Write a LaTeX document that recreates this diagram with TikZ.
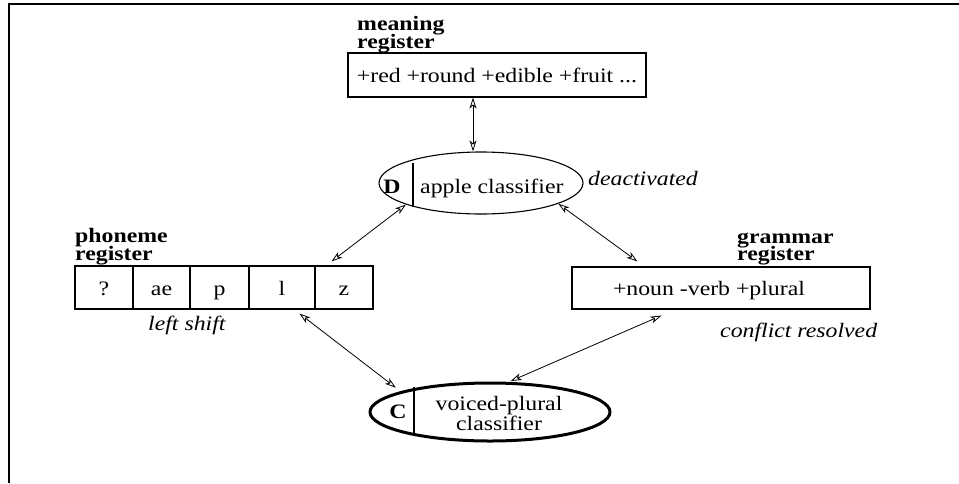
\documentclass[tikz,border=0pt]{standalone}
\usepackage{fontspec}
\setmainfont{Liberation Serif}[FakeStretch=1.16]
\usetikzlibrary{arrows.meta,shapes.geometric}
\newcommand\mytightlines{\lineskiplimit -100pt\relax\lineskip 0pt\relax}
\begin{document}
\begin{tikzpicture}[x=1pt,y=-1pt,
  txt/.style={inner sep=0pt, font=\fontsize{20.5}{16}\selectfont},
  lbl/.style={inner sep=0pt, font={\fontsize{20.5}{17.5}\selectfont\mytightlines\bfseries}, align=left, anchor=north west},
  note/.style={inner sep=0pt, font=\fontsize{20.5}{16}\selectfont\itshape, anchor=base west},
  box/.style={draw, line width=1.1pt, inner sep=0pt},
  cell/.style={box, minimum height=43pt, text height=16pt, text depth=1pt, font=\fontsize{20.5}{16}\selectfont},
  oval/.style={draw, ellipse, inner sep=0pt},
  link/.style={line width=0.8pt, arrows={Stealth[open,length=11pt,width=7pt,inset=3pt]-Stealth[open,length=11pt,width=7pt,inset=3pt]}},
]
\useasboundingbox (0,0) rectangle (959,483);
% frame
\draw[line width=1.1pt] (9,483) -- (9,4) -- (959,4);

% meaning register
\node[lbl] (ML) at (357,16.5) {meaning\\register};
\node[box, minimum width=298pt, minimum height=44pt, font=\fontsize{20.5}{16}\selectfont] (M) at (497,75) {+red +round +edible +fruit ...};

% D ellipse
\node[oval, line width=1.1pt, minimum width=204pt, minimum height=62pt] (D) at (481,183) {};
\draw[line width=1.1pt] (413,163) -- (413,207);
\node[txt, anchor=base] (Dl) at (392,193) {\bfseries D};
\node[txt, anchor=base west] (Dt) at (420,193) {apple classifier};
\node[note] (deact) at (588,185) {deactivated};

% phoneme register
\node[lbl] (PL) at (75,228.5) {phoneme\\register};
\node[cell, minimum width=58pt] (P1) at (104,287.5) {?};
\node[cell, minimum width=57pt] (P2) at (161.5,287.5) {ae};
\node[cell, minimum width=59pt] (P3) at (219.5,287.5) {p};
\node[cell, minimum width=66pt] (P4) at (282,287.5) {l};
\node[cell, minimum width=58pt] (P5) at (344,287.5) {z};
\node[note] (ls) at (148,330) {left shift};

% grammar register
\node[lbl] (GL) at (737,232.5) {grammar\\register};
\node[box, minimum width=298pt, minimum height=42pt] (G) at (721,288) {};
\node[txt, anchor=base] (Gt) at (709,295) {+noun -verb +plural};
\node[note] (cr) at (720,337) {conflict resolved};

% C ellipse
\node[oval, line width=3pt, minimum width=240pt, minimum height=58pt] (C) at (490,412) {};
\draw[line width=1.1pt] (414,387) -- (414,435);
\node[txt, anchor=base] (Cl) at (398,418) {\bfseries C};
\node[txt, anchor=north, align=center, font=\fontsize{20.5}{20}\selectfont] (Ct) at (499,396) {voiced-plural\\classifier};

% connectors
\draw[link] ([xshift=-24pt]M.south) -- ([xshift=-8pt]D.north);
\draw[link] (D.196) -- ([xshift=17pt,yshift=4pt]P5.north west);
\draw[link] (D.345) -- ([xshift=66pt,yshift=5pt]G.north west);
\draw[link, shorten >=6pt] ([xshift=51pt,yshift=-4pt]P4.south west) -- (C.167);
\draw[link, shorten >=2pt] ([xshift=90pt,yshift=-6pt]G.south west) -- (C.58);
\end{tikzpicture}
\end{document}
